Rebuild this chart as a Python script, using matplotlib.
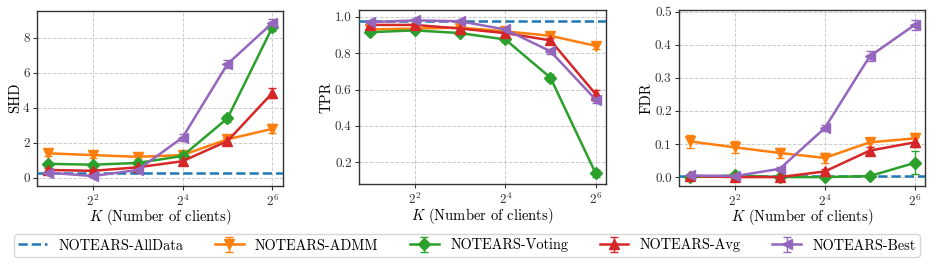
import numpy as np
import matplotlib
matplotlib.use("Agg")
import matplotlib.pyplot as plt

plt.rcParams['font.family'] = 'serif'
plt.rcParams['font.serif'] = ['cmr10', 'DejaVu Serif']
plt.rcParams['mathtext.fontset'] = 'cm'
plt.rcParams['axes.formatter.use_mathtext'] = True
plt.rcParams['axes.unicode_minus'] = False

K = [2, 4, 8, 16, 32, 64]
methods = ["NOTEARS-ADMM", "NOTEARS-Voting", "NOTEARS-Avg", "NOTEARS-Best"]
markers = ["v", "D", "^", "<"]
colors = ["#ff7f0e", "#2ca02c", "#d62728", "#9467bd"]

alldata_shd = 0.25
alldata_tpr = 0.978
alldata_fdr = 0.004

shd_admm = [1.4, 1.3, 1.2, 1.3, 2.2, 2.8]
shd_voting = [0.8, 0.75, 0.85, 1.25, 3.4, 8.6]
shd_avg = [0.45, 0.4, 0.6, 0.95, 2.1, 4.85]
shd_best = [0.3, 0.1, 0.45, 2.3, 6.5, 8.85]
shd_err_admm = [0.15, 0.15, 0.12, 0.15, 0.15, 0.25]
shd_err_voting = [0.12, 0.12, 0.12, 0.12, 0.2, 0.2]
shd_err_avg = [0.12, 0.12, 0.12, 0.15, 0.2, 0.3]
shd_err_best = [0.1, 0.08, 0.12, 0.2, 0.25, 0.25]

tpr_admm = [0.93, 0.935, 0.94, 0.92, 0.895, 0.84]
tpr_voting = [0.915, 0.925, 0.91, 0.875, 0.665, 0.14]
tpr_avg = [0.955, 0.955, 0.935, 0.91, 0.87, 0.575]
tpr_best = [0.97, 0.98, 0.975, 0.93, 0.81, 0.545]
tpr_err_admm = [0.01, 0.01, 0.01, 0.01, 0.012, 0.015]
tpr_err_voting = [0.012, 0.01, 0.01, 0.012, 0.02, 0.02]
tpr_err_avg = [0.01, 0.01, 0.01, 0.012, 0.015, 0.025]
tpr_err_best = [0.008, 0.006, 0.006, 0.01, 0.015, 0.02]

fdr_admm = [0.108, 0.09, 0.073, 0.058, 0.105, 0.117]
fdr_voting = [0.0, 0.005, 0.0, 0.0, 0.003, 0.043]
fdr_avg = [0.003, 0.0, 0.0, 0.017, 0.08, 0.105]
fdr_best = [0.005, 0.003, 0.025, 0.148, 0.365, 0.46]
fdr_err_admm = [0.02, 0.018, 0.015, 0.014, 0.014, 0.017]
fdr_err_voting = [0.003, 0.004, 0.003, 0.003, 0.004, 0.035]
fdr_err_avg = [0.004, 0.004, 0.004, 0.008, 0.012, 0.015]
fdr_err_best = [0.004, 0.004, 0.006, 0.01, 0.015, 0.015]

panels = [
    ("SHD", alldata_shd, [shd_admm, shd_voting, shd_avg, shd_best],
     [shd_err_admm, shd_err_voting, shd_err_avg, shd_err_best], (-0.45, 9.55), [0, 2, 4, 6, 8]),
    ("TPR", alldata_tpr, [tpr_admm, tpr_voting, tpr_avg, tpr_best],
     [tpr_err_admm, tpr_err_voting, tpr_err_avg, tpr_err_best], (0.079, 1.037), [0.2, 0.4, 0.6, 0.8, 1.0]),
    ("FDR", alldata_fdr, [fdr_admm, fdr_voting, fdr_avg, fdr_best],
     [fdr_err_admm, fdr_err_voting, fdr_err_avg, fdr_err_best], (-0.026, 0.505), [0.0, 0.1, 0.2, 0.3, 0.4, 0.5]),
]

W, H = 934, 266
fig = plt.figure(figsize=(W / 100, H / 100), dpi=100)
boxes = [(37.3, 282.7, 10.7, 185.7), (359.3, 606, 10, 184.3), (679.3, 925, 10, 185.7)]

handles = None
for (name, ad, series, errs, ylim, yt), (l, r, t, b) in zip(panels, boxes):
    ax = fig.add_axes([l / W, 1 - b / H, (r - l) / W, (b - t) / H])
    ax.set_xscale('log', base=2)
    hs = []
    h0 = ax.axhline(ad, color="#1f77b4", linestyle="--", linewidth=1.8, label="NOTEARS-AllData", zorder=3)
    hs.append(h0)
    for m, mk, c, y, e in zip(methods, markers, colors, series, errs):
        h = ax.errorbar(K, y, yerr=e, marker=mk, color=c, markersize=6.5, linewidth=1.8,
                        capsize=3, elinewidth=1.0, capthick=1.0, label=m, zorder=4)
        hs.append(h)
    handles = hs
    ax.set_xlim(2 ** 0.766, 2 ** 6.23)
    ax.set_xticks([4, 16, 64])
    ax.xaxis.set_minor_locator(matplotlib.ticker.NullLocator())
    ax.set_ylim(*ylim)
    ax.set_yticks(yt)
    ax.grid(True, linestyle="--", color="#cccccc", linewidth=0.7)
    ax.set_axisbelow(True)
    ax.set_ylabel(name, fontsize=10.5, labelpad=1)
    ax.set_xlabel(r"$K$ (Number of clients)", fontsize=10.5, labelpad=-1)
    ax.tick_params(labelsize=9.5, colors="#333333", length=3, pad=2.5)
    for s in ax.spines.values():
        s.set_color("#333333")
        s.set_linewidth(1.0)
    if name == "SHD":
        ax.yaxis.set_major_formatter(matplotlib.ticker.FormatStrFormatter("%d"))
    else:
        ax.yaxis.set_major_formatter(matplotlib.ticker.FormatStrFormatter("%.1f"))

fig.legend(handles=handles, labels=["NOTEARS-AllData"] + methods, ncol=5,
           loc="center", bbox_to_anchor=(14 / W, 1 - 258 / H, 906 / W, 25 / H),
           mode="expand", fontsize=10.3, frameon=True, handlelength=2.0,
           edgecolor="#cccccc", fancybox=True, borderaxespad=0, borderpad=0.3)

fig.savefig("out.png", dpi=100)
